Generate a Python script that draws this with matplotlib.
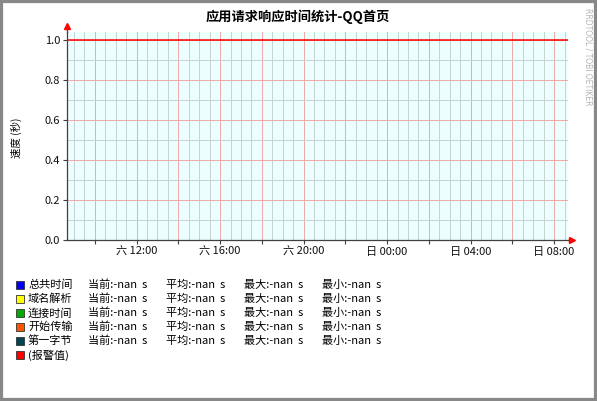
import numpy as np
import pandas as pd
import matplotlib
matplotlib.use("Agg")
import matplotlib.pyplot as plt
from matplotlib.patches import Rectangle

plt.rcParams['font.family'] = ['Noto Sans CJK SC', 'DejaVu Sans']

W, H = 597, 401

title = "应用请求响应时间统计-QQ首页"
ylabel = "速度 (秒)"

# time window shown (Sat 08:40 -> Sun 08:40)
t_start = pd.Timestamp("2015-01-03 08:40")
t_end = pd.Timestamp("2015-01-04 08:40")

# alarm threshold line (the only series with values)
alarm_times = [t_start, t_end]
alarm_values = [1.0, 1.0]

series_names = ["总共时间", "域名解析", "连接时间", "开始传输", "第一字节", "(报警值)"]
series_colors = ["#0000ff", "#ffff00", "#00aa00", "#ff5500", "#004455", "#ff0000"]
stat_names = ["当前", "平均", "最大", "最小"]
stat_values = ["-nan", "-nan", "-nan", "-nan"]

xtick_times = pd.date_range("2015-01-03 10:00", "2015-01-04 08:00", freq="2h")
xtick_labels = ["", "六 12:00", "", "六 16:00", "", "六 20:00", "", "日 00:00",
                "", "日 04:00", "", "日 08:00"]
yticks = [0.0, 0.2, 0.4, 0.6, 0.8, 1.0]

fig = plt.figure(figsize=(W / 100, H / 100), dpi=100)
fig.patch.set_facecolor("white")

def px(x0, y0, x1, y1):
    return [x0 / W, 1 - y1 / H, (x1 - x0) / W, (y1 - y0) / H]

ax = fig.add_axes(px(67, 32, 568, 240))
ax.set_facecolor("#ecfefe")
ax.set_xlim(t_start, t_end)
ax.set_ylim(0, 1.04)

# grid: minor grey, major red
ax.set_yticks(yticks)
ax.set_yticklabels([f"{v:.1f}" for v in yticks])
ax.set_yticks(np.arange(0.1, 1.04, 0.2), minor=True)
ax.set_xticks(xtick_times)
ax.set_xticklabels(xtick_labels)
ax.set_xticks(pd.date_range("2015-01-03 09:00", "2015-01-04 08:30", freq="30min"), minor=True)
ax.grid(which="minor", color="#c4d2d2", linewidth=0.7)
ax.grid(which="major", color="#f0a8a8", linewidth=0.7)
ax.set_axisbelow(True)
ax.tick_params(which="minor", length=0)
ax.tick_params(which="major", length=3, width=0.8, color="#404040",
               labelsize=8, pad=2, labelcolor="#111111")

for s in ["top", "right"]:
    ax.spines[s].set_visible(False)
for s in ["left", "bottom"]:
    ax.spines[s].set_color("#404040")
    ax.spines[s].set_linewidth(0.9)

ax.plot(alarm_times, alarm_values, color="#ff0000", linewidth=1.1, zorder=3)

# axis arrows
ax.plot([0, 0], [1, 1.025], transform=ax.transAxes, color="#404040", lw=0.9, clip_on=False)
ax.plot([0], [1.03], marker="^", color="#ff0000", markersize=4, transform=ax.transAxes, clip_on=False)
ax.plot([1, 1.005], [0, 0], transform=ax.transAxes, color="#404040", lw=0.9, clip_on=False)
ax.plot([1.008], [0], marker=">", color="#ff0000", markersize=4, transform=ax.transAxes, clip_on=False)

fig.text(298 / W, 1 - 17 / H, title, ha="center", va="center", fontsize=9.5, fontweight="bold")
fig.text(16 / W, 1 - 138 / H, ylabel, ha="center", va="center", rotation=90, fontsize=7.5)
fig.text(588 / W, 1 - 8 / H, "RRDTOOL / TOBI OETIKER", ha="center", va="top",
         rotation=-90, fontsize=5.5, color="#b4b4b4", family="DejaVu Sans")

# legend
row_y = [285, 299, 313, 327, 341, 355]
col_x = [88, 166, 244, 322]
for i, (name, col) in enumerate(zip(series_names, series_colors)):
    y = row_y[i]
    fig.patches.append(Rectangle((16 / W, 1 - (y + 4) / H), 8 / W, 8 / H,
                                 transform=fig.transFigure, facecolor=col,
                                 edgecolor="#333333", linewidth=0.6))
    fig.text(28 / W, 1 - y / H, name, ha="left", va="center", fontsize=8)
    if i < 5:
        for sn, sv, x in zip(stat_names, stat_values, col_x):
            fig.text(x / W, 1 - y / H, f"{sn}:{sv}  s", ha="left", va="center", fontsize=8)

# outer grey frame
fig.patches.append(Rectangle((0, 0), 1, 1, transform=fig.transFigure, fill=False,
                             edgecolor="#888888", linewidth=4.5))

fig.savefig("out.png", dpi=100)
